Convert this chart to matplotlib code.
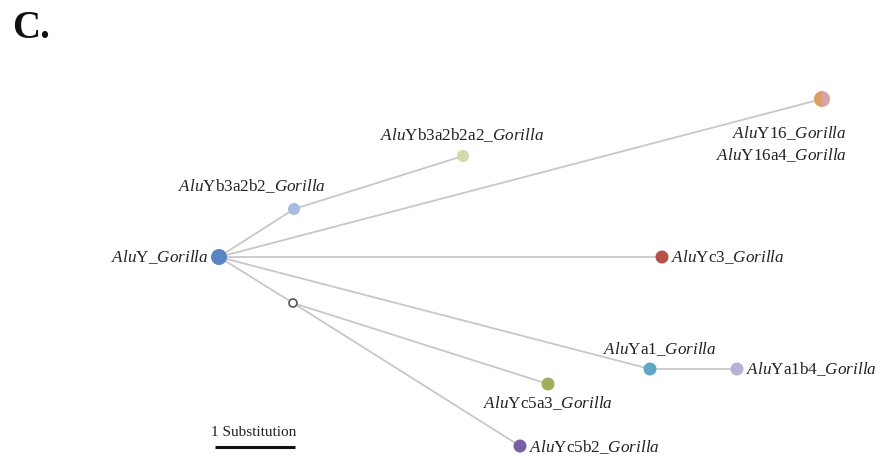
import matplotlib
matplotlib.use("Agg")
import matplotlib.pyplot as plt
from matplotlib.patches import Wedge, Circle

plt.rcParams["mathtext.fontset"] = "custom"
plt.rcParams["mathtext.rm"] = "Liberation Serif"
plt.rcParams["mathtext.it"] = "Liberation Serif:italic"
plt.rcParams["font.family"] = ["Liberation Serif", "DejaVu Serif"]

# Haplotype network layout (x, y in network units)
node_names = ["Y", "Yb3a2b2", "Yb3a2b2a2", "Y16", "Yc3", "hidden",
              "Yc5a3", "Yc5b2", "Ya1", "Ya1b4"]
node_x = [219, 294, 463, 822, 662, 293, 548, 520, 650, 737]
node_y = [257, 209, 156, 99, 257, 303, 384, 446, 369, 369]
node_colors = ["#5b84c4", "#a8bbe0", "#cfdcaa", None, "#b8514b", None,
               "#9caf5c", "#7761a6", "#5ea6c2", "#b6b1d6"]
node_sizes = [8, 6, 6, 8, 6.5, 4, 6.5, 6.5, 6.5, 6.5]

edges = [("Y", "Yb3a2b2"), ("Yb3a2b2", "Yb3a2b2a2"), ("Y", "Y16"),
         ("Y", "Yc3"), ("Y", "Ya1"), ("Ya1", "Ya1b4"), ("Y", "hidden"),
         ("hidden", "Yc5a3"), ("hidden", "Yc5b2")]

# Y16 node is shared by two subfamilies
y16_colors = ["#dda060", "#d8a3a8"]

labels = {
    "Y": ("Y", "right", 208, 257),
    "Yb3a2b2": ("Yb3a2b2", "center", 252, 186),
    "Yb3a2b2a2": ("Yb3a2b2a2", "center", 462, 135),
    "Yc3": ("Yc3", "left", 671, 257),
    "Ya1": ("Ya1", "center", 660, 349),
    "Ya1b4": ("Ya1b4", "left", 746, 369),
    "Yc5a3": ("Yc5a3", "center", 548, 403),
    "Yc5b2": ("Yc5b2", "left", 529, 447),
}
y16_labels = ["Y16", "Y16a4"]


def label_text(sub):
    return r"$\mathit{Alu}\mathrm{" + sub + r"}\_\mathit{Gorilla}$"


fig = plt.figure(figsize=(8.8, 4.62), dpi=100)
ax = fig.add_axes([0, 0, 1, 1])
ax.set_xlim(0, 880)
ax.set_ylim(462, 0)
ax.set_aspect("equal")
ax.axis("off")

pos = {n: (x, y) for n, x, y in zip(node_names, node_x, node_y)}

for a, b in edges:
    (x0, y0), (x1, y1) = pos[a], pos[b]
    ax.plot([x0, x1], [y0, y1], color="#c8c8c8", lw=1.3, zorder=1,
            solid_capstyle="round")

for n, c, s in zip(node_names, node_colors, node_sizes):
    x, y = pos[n]
    if n == "hidden":
        ax.add_patch(Circle((x, y), s, facecolor="white",
                            edgecolor="#555555", lw=1.2, zorder=3))
    elif n == "Y16":
        ax.add_patch(Wedge((x, y), s, 90, 270, facecolor=y16_colors[0],
                           edgecolor="none", zorder=3))
        ax.add_patch(Wedge((x, y), s, -90, 90, facecolor=y16_colors[1],
                           edgecolor="none", zorder=3))
    else:
        ax.add_patch(Circle((x, y), s, facecolor=c, edgecolor="none",
                            zorder=3))

fs = 12.3
for n, (sub, ha, lx, ly) in labels.items():
    ax.text(lx, ly, label_text(sub), ha=ha, va="center", fontsize=fs,
            color="#222222", zorder=4)
for i, sub in enumerate(y16_labels):
    ax.text(847, 133 + 22 * i, label_text(sub), ha="right", va="center",
            fontsize=fs, color="#222222", zorder=4)

# Scale bar
ax.text(254, 433, "1 Substitution", ha="center", va="center",
        fontsize=11, color="#222222")
ax.plot([215, 295], [447, 447], color="#111111", lw=2.2,
        solid_capstyle="butt")

# Panel letter
ax.text(12, 28, "C.", ha="left", va="center", fontsize=28,
        fontweight="bold", color="#111111")

fig.savefig("out.png", dpi=100)
